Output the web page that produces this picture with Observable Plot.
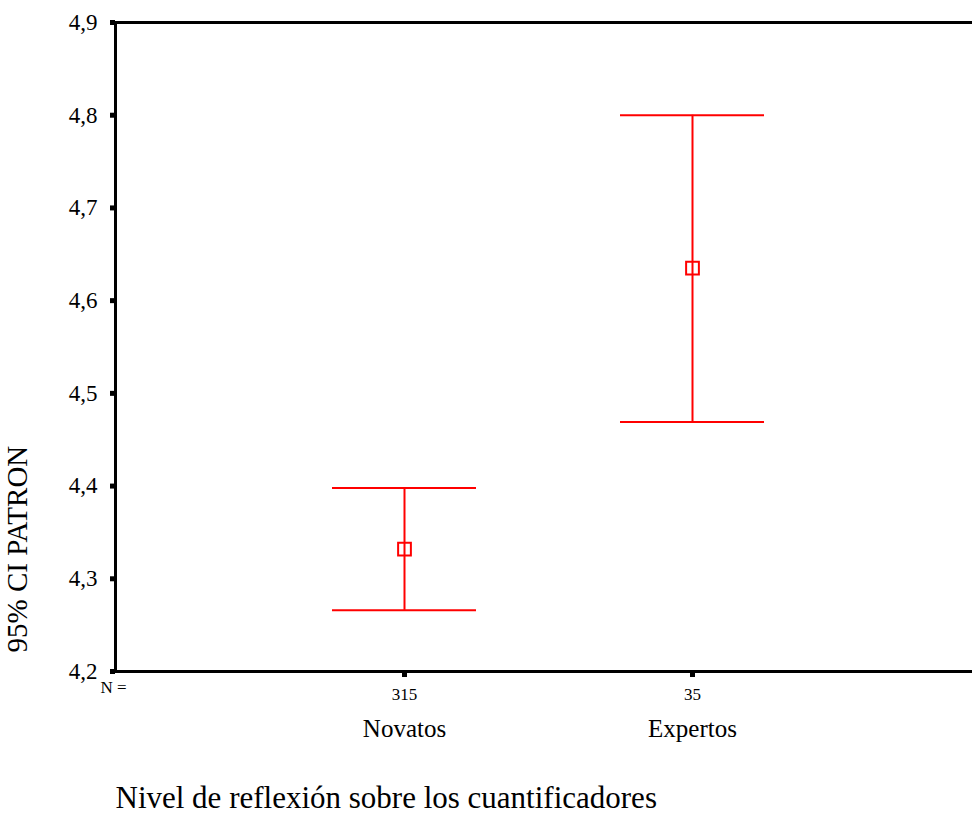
<!DOCTYPE html>
<html><head><meta charset="utf-8">
<script src="https://cdn.jsdelivr.net/npm/d3@7"></script>
<script src="https://cdn.jsdelivr.net/npm/@observablehq/plot@0.6"></script>
<style>body{margin:0;background:#fff}</style>
</head><body><div id="chart"></div>
<script>
const groups = ["Novatos", "Expertos"];
const nValues = [315, 35];
const means = [4.332, 4.635];
const lower = [4.266, 4.469];
const upper = [4.398, 4.800];
const yTicks = [4.2, 4.3, 4.4, 4.5, 4.6, 4.7, 4.8, 4.9];
const yLabel = "95% CI PATRON";
const xTitle = "Nivel de reflexión sobre los cuantificadores";
const nLabel = "N =";

const data = groups.map((g, i) => ({group: g, n: nValues[i], mean: means[i], lo: lower[i], hi: upper[i]}));
const fmt = d => d.toFixed(1).replace(".", ",");
const serif = "'Liberation Serif', 'Times New Roman', serif";
const red = "#ff0000";

const chart = Plot.plot({
  width: 972, height: 820,
  marginLeft: 115, marginRight: 0, marginTop: 22, marginBottom: 149,
  style: {fontFamily: serif, background: "#fff", color: "#000"},
  x: {type: "band", domain: groups, range: [332, 764], paddingInner: 0.5, paddingOuter: 0, axis: null},
  y: {domain: [4.2, 4.9], axis: null},
  marks: [
    Plot.ruleY([4.2, 4.9], {stroke: "#000", strokeWidth: 3}),
    Plot.frame({anchor: "left", stroke: "#000", strokeWidth: 3}),
    Plot.axisY(yTicks, {tickSize: 5, tickPadding: 13, tickFormat: fmt, fontSize: 23, fontFamily: serif, strokeWidth: 5, label: null}),
    Plot.axisX(groups, {tickSize: 6, tickPadding: 10, fontSize: 17, fontFamily: serif, tickFormat: g => String(nValues[groups.indexOf(g)]), strokeWidth: 5, label: null}),
    Plot.axisX(groups, {tickSize: 0, tickPadding: 48, fontSize: 25, fontFamily: serif, label: null}),
    Plot.ruleX(data, {x: "group", y1: "lo", y2: "hi", stroke: red, strokeWidth: 2}),
    Plot.tickY(data, {x: "group", y: "hi", stroke: red, strokeWidth: 2}),
    Plot.tickY(data, {x: "group", y: "lo", stroke: red, strokeWidth: 2}),
    Plot.dot(data, {x: "group", y: "mean", symbol: "square", r: 7.2, stroke: red, strokeWidth: 2, fill: "none"}),
    Plot.text([nLabel], {text: d => d, frameAnchor: "bottom-left", textAnchor: "start", dx: -15, dy: 21.6, fontSize: 17, fontFamily: serif}),
    Plot.text([xTitle], {text: d => d, frameAnchor: "bottom-left", textAnchor: "start", dy: 136, fontSize: 31, fontFamily: serif}),
    Plot.text([yLabel], {text: d => d, frameAnchor: "bottom-left", textAnchor: "start", rotate: -90, dx: -88.5, dy: -19, fontSize: 29, fontFamily: serif})
  ]
});
document.getElementById("chart").appendChild(chart);
</script>
</body></html>
